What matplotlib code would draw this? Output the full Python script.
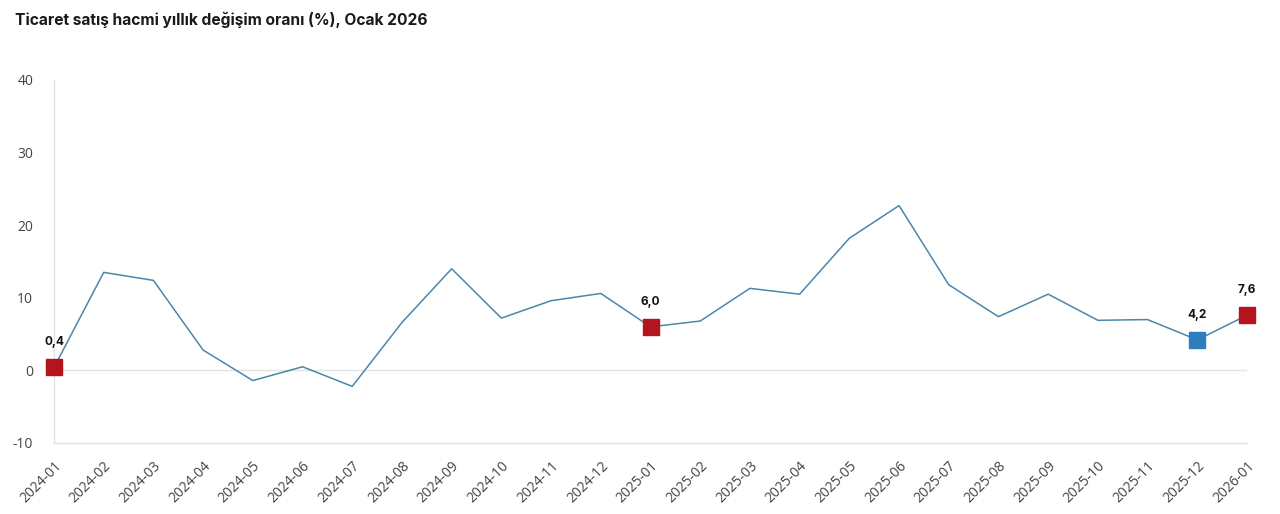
import numpy as np
import matplotlib
matplotlib.use("Agg")
import matplotlib.pyplot as plt
import matplotlib.transforms as mtransforms

months = ['2024-01', '2024-02', '2024-03', '2024-04', '2024-05', '2024-06',
          '2024-07', '2024-08', '2024-09', '2024-10', '2024-11', '2024-12',
          '2025-01', '2025-02', '2025-03', '2025-04', '2025-05', '2025-06',
          '2025-07', '2025-08', '2025-09', '2025-10', '2025-11', '2025-12',
          '2026-01']
values = [0.4, 13.5, 12.4, 2.8, -1.4, 0.5, -2.2, 6.6, 14.0, 7.2, 9.6, 10.6,
          6.0, 6.8, 11.3, 10.5, 18.2, 22.7, 11.8, 7.4, 10.5, 6.9, 7.0, 4.2, 7.6]

# highlighted points
red_idx = [0, 12, 24]
blue_idx = [23]
yticks = [-10, 0, 10, 20, 30, 40]

plt.rcParams['font.family'] = ['Open Sans', 'DejaVu Sans']

fig = plt.figure(figsize=(12.8, 5.14), dpi=100)
ax = fig.add_axes([54/1280, 71/514, (1247-54)/1280, (443-80)/514])

x = np.arange(len(months))
ax.plot(x, values, color='#4a87a9', lw=1.1, zorder=2)

for i in red_idx:
    ax.plot(x[i], values[i], 's', ms=11, color='#b3141d', zorder=3, clip_on=False)
for i in blue_idx:
    ax.plot(x[i], values[i], 's', ms=11, color='#2f7cbf', zorder=3, clip_on=False)

for i in red_idx + blue_idx:
    lbl = f"{values[i]:.1f}".replace('.', ',')
    ax.annotate(lbl, (x[i], values[i]), textcoords='offset points',
                xytext=(0, 16), ha='center', fontsize=8.5, fontweight='bold',
                color='#111111', family=['Inter', 'DejaVu Sans'])

ax.axhline(0, color='#e3e3e3', lw=1, zorder=1)

ax.set_xlim(0, len(months) - 1)
ax.set_ylim(-10, 40)
ax.set_yticks(yticks)
ax.set_yticklabels([str(v) for v in yticks])
ax.set_xticks(x)
ax.set_xticklabels(months, rotation=45, ha='right', rotation_mode='anchor')

# nudge rotated labels a little to the left, like the original
shift = mtransforms.ScaledTranslation(-5/100, 0, fig.dpi_scale_trans)
for t in ax.get_xticklabels():
    t.set_transform(t.get_transform() + shift)

for s in ['top', 'right']:
    ax.spines[s].set_visible(False)
for s in ['left', 'bottom']:
    ax.spines[s].set_color('#e3e3e3')
    ax.spines[s].set_linewidth(1)

ax.tick_params(axis='both', length=0, labelsize=10, colors='#444444')
ax.tick_params(axis='y', pad=15)
ax.tick_params(axis='x', pad=11)

fig.text(15/1280, 1 - 20/514, 'Ticaret satış hacmi yıllık değişim oranı (%), Ocak 2026',
         fontsize=11.2, fontweight='bold', color='#1a1a1a', va='center',
         family=['Inter', 'DejaVu Sans'])

fig.savefig('out.png', dpi=100)
